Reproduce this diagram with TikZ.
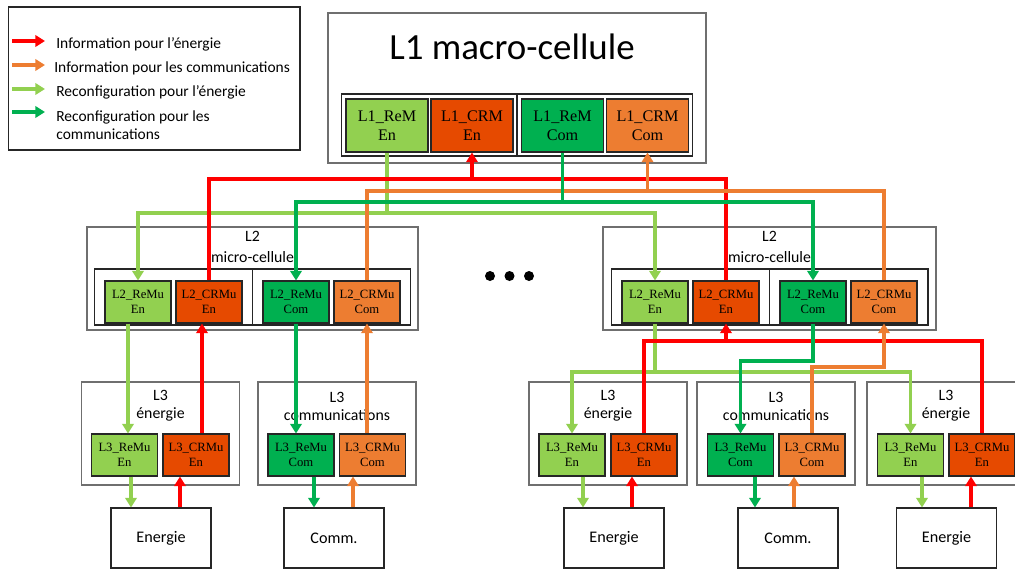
\documentclass[tikz,border=0pt]{standalone}
\usepackage{fontspec}
\setmainfont{Carlito}
\newfontfamily\tnr{Liberation Serif}
\usetikzlibrary{positioning, arrows.meta}
\definecolor{ligreen}{HTML}{92D050}
\definecolor{dkgreen}{HTML}{00B050}
\definecolor{comorange}{HTML}{ED7D31}
\definecolor{enred}{HTML}{E64A00}
\definecolor{arrred}{HTML}{FF0000}
\definecolor{framegray}{HTML}{6F6F6F}
\definecolor{darkline}{HTML}{262626}

\begin{document}
\begin{tikzpicture}[
        x=0.02cm, y=-0.02cm,
        cellbox/.style={rectangle, draw=framegray, fill=white,
          line width=0.9pt, inner sep=0pt},
        holder/.style={rectangle, draw=darkline, line width=0.6pt,
          inner sep=0pt},
        unitL1/.style={rectangle, draw=darkline, line width=0.6pt,
          minimum width=1.64cm, minimum height=1.06cm, inner sep=0pt,
          align=center, font=\tnr\fontsize{9.2}{11}\selectfont},
        unit/.style={rectangle, draw=darkline, line width=0.6pt,
          minimum width=1.32cm, minimum height=0.84cm, inner sep=0pt,
          align=center, font=\tnr\fontsize{7.2}{8.5}\selectfont},
        srcbox/.style={rectangle, draw=darkline, fill=white,
          line width=0.6pt, minimum width=2cm, minimum height=1.2cm,
          font=\fontsize{9.2}{10}\selectfont},
        lbl/.style={font=\fontsize{9}{10}\selectfont, align=center},
        keytxt/.style={font=\fontsize{8.8}{10.2}\selectfont, anchor=west,
          align=left, inner sep=0pt},
        wire/.style={line width=2pt},
        arr/.style={wire, -{Triangle[length=5.5pt, width=6.5pt]}},
      ]
        \useasboundingbox (0,0) rectangle (1015,569);
        \clip (0,0) rectangle (1015,569);

        % legend
        \node[draw=darkline, line width=0.6pt, minimum width=5.84cm,
          minimum height=2.86cm] (key) at (154,78.5) {};
        \node[keytxt] (keyA) at (56,44) {Information pour l’énergie};
        \node[keytxt] (keyB) at (54,68) {Information pour les communications};
        \node[keytxt] (keyC) at (56,92) {Reconfiguration pour l’énergie};
        \node[keytxt] (keyD) at (56,125) {Reconfiguration pour les\\communications};
        \coordinate (arrA) at (12,41);
        \coordinate (arrB) at (12,65);
        \coordinate (arrC) at (12,89);
        \coordinate (arrD) at (12,112);
        \draw[arr, arrred] (arrA) -- ++(33,0);
        \draw[arr, comorange] (arrB) -- ++(33,0);
        \draw[arr, ligreen] (arrC) -- ++(33,0);
        \draw[arr, dkgreen] (arrD) -- ++(33,0);

        % L1 macro-cellule
        \node[cellbox, minimum width=7.56cm, minimum height=3cm] (L1) at (517,88) {};
        \node[font=\fontsize{21}{24}\selectfont] (L1ttl) at (512,47) {L1 macro-cellule};
        \node[holder, minimum width=7.04cm, minimum height=1.24cm] (L1hold) at (517,125) {};
        \draw[darkline, line width=0.6pt] (L1hold.north) -- (L1hold.south);
        \node[unitL1, fill=ligreen] (L1ReEn) at (387,125.5) {L1\_ReM\\En};
        \node[unitL1, fill=enred] (L1CrEn) at (472,125.5) {L1\_CRM\\En};
        \node[unitL1, fill=dkgreen] (L1ReCo) at (562.5,125.5) {L1\_ReM\\Com};
        \node[unitL1, fill=comorange] (L1CrCo) at (647.5,125.5) {L1\_CRM\\Com};

        % L2 micro-cellules
        \node[cellbox, minimum width=6.62cm, minimum height=2.06cm] (L2a) at (252.5,278.5) {};
        \node[lbl, font=\fontsize{9}{11.8}\selectfont] (L2attl) at (252.5,247) {L2\\micro-cellule};
        \node[holder, minimum width=6.34cm, minimum height=1.12cm] (L2ahold) at (252.5,297) {};
        \draw[darkline, line width=0.6pt] (L2ahold.north) -- (L2ahold.south);
        \node[unit, fill=ligreen] (L2aReEn) at (138,302) {L2\_ReMu\\En};
        \node[unit, fill=enred] (L2aCrEn) at (209,302) {L2\_CRMu\\En};
        \node[unit, fill=dkgreen] (L2aReCo) at (296,302) {L2\_ReMu\\Com};
        \node[unit, fill=comorange] (L2aCrCo) at (367,302) {L2\_CRMu\\Com};

        \node[cellbox, minimum width=6.66cm, minimum height=2.06cm] (L2b) at (769.5,278.5) {};
        \node[lbl, font=\fontsize{9}{11.8}\selectfont] (L2bttl) at (769.5,247) {L2\\micro-cellule};
        \node[holder, minimum width=6.34cm, minimum height=1.12cm] (L2bhold) at (769.5,297) {};
        \draw[darkline, line width=0.6pt] (L2bhold.north) -- (L2bhold.south);
        \node[unit, fill=ligreen] (L2bReEn) at (655,302) {L2\_ReMu\\En};
        \node[unit, fill=enred] (L2bCrEn) at (726,302) {L2\_CRMu\\En};
        \node[unit, fill=dkgreen] (L2bReCo) at (813,302) {L2\_ReMu\\Com};
        \node[unit, fill=comorange] (L2bCrCo) at (884,302) {L2\_CRMu\\Com};

        \fill (490,276) circle (0.1cm);
        \fill (509.5,276) circle (0.1cm);
        \fill (529,276) circle (0.1cm);

        % L3 cellules
        \node[cellbox, minimum width=3.16cm, minimum height=2.06cm] (L3a) at (160.5,433.5) {};
        \node[lbl, font=\fontsize{9}{10.2}\selectfont] (L3attl) at (160.5,406) {L3\\énergie};
        \node[unit, fill=ligreen] (L3aReEn) at (124.5,455) {L3\_ReMu\\En};
        \node[unit, fill=enred] (L3aCrEn) at (196,455) {L3\_CRMu\\En};

        \node[cellbox, minimum width=3.16cm, minimum height=2.06cm] (L3b) at (337,433.5) {};
        \node[lbl, font=\fontsize{9}{10.2}\selectfont] (L3bttl) at (337,406) {L3\\communications};
        \node[unit, fill=dkgreen] (L3bReCo) at (301,455) {L3\_ReMu\\Com};
        \node[unit, fill=comorange] (L3bCrCo) at (372.5,455) {L3\_CRMu\\Com};

        \node[cellbox, minimum width=3.16cm, minimum height=2.06cm] (L3c) at (608,433.5) {};
        \node[lbl, font=\fontsize{9}{10.2}\selectfont] (L3cttl) at (608,406) {L3\\énergie};
        \node[unit, fill=ligreen] (L3cReEn) at (572,455) {L3\_ReMu\\En};
        \node[unit, fill=enred] (L3cCrEn) at (644,455) {L3\_CRMu\\En};

        \node[cellbox, minimum width=3.16cm, minimum height=2.06cm] (L3d) at (776,433.5) {};
        \node[lbl, font=\fontsize{9}{10.2}\selectfont] (L3dttl) at (776,406) {L3\\communications};
        \node[unit, fill=dkgreen] (L3dReCo) at (740.5,455) {L3\_ReMu\\Com};
        \node[unit, fill=comorange] (L3dCrCo) at (812,455) {L3\_CRMu\\Com};

        \node[cellbox, minimum width=3.16cm, minimum height=2.06cm] (L3e) at (946,433.5) {};
        \node[lbl, font=\fontsize{9}{10.2}\selectfont] (L3ettl) at (946,406) {L3\\énergie};
        \node[unit, fill=ligreen] (L3eReEn) at (910.5,455) {L3\_ReMu\\En};
        \node[unit, fill=enred] (L3eCrEn) at (982,455) {L3\_CRMu\\En};

        % sources
        \node[srcbox] (srcA) at (161,538) {Energie};
        \node[srcbox] (srcB) at (334,538) {Comm.};
        \node[srcbox] (srcC) at (614,538) {Energie};
        \node[srcbox] (srcD) at (788,538) {Comm.};
        \node[srcbox] (srcE) at (946.5,538) {Energie};

        % L1 <-> L2
        \draw[arr, ligreen] (L1ReEn.south) |- (L2aReEn.north |- 0,213) -- (L2aReEn.north);
        \draw[arr, ligreen] (L1ReEn.south |- 0,213) -| (L2bReEn.north);
        \draw[wire, arrred] (L2aCrEn.north) |- (L2bCrEn.north |- 0,179) -- (L2bCrEn.north);
        \draw[arr, arrred] (L1CrEn.south |- 0,179) -- (L1CrEn.south);
        \draw[wire, comorange] (L2aCrCo.north) |- (L2bCrCo.north |- 0,191) -- (L2bCrCo.north);
        \draw[arr, comorange] (L1CrCo.south |- 0,191) -- (L1CrCo.south);
        \draw[arr, dkgreen] (L1ReCo.south) |- (L2aReCo.north |- 0,202) -- (L2aReCo.north);
        \draw[arr, dkgreen] (L1ReCo.south |- 0,202) -| (L2bReCo.north);

        % L2 <-> L3, left
        \draw[arr, ligreen] (L2aReEn.south -| 128,0) -- (L3aReEn.north -| 128,0);
        \draw[arr, arrred] (L3aCrEn.north -| 202,0) -- (L2aCrEn.south -| 202,0);
        \draw[arr, dkgreen] (L2aReCo.south) -- (L3bReCo.north -| L2aReCo.south);
        \draw[arr, comorange] (L3bCrCo.north -| L2aCrCo.south) -- (L2aCrCo.south);

        % L2 <-> L3, right
        \draw[arr, ligreen] (L2bReEn.south) |- (L3cReEn.north |- 0,372) -- (L3cReEn.north);
        \draw[arr, ligreen] (L2bReEn.south |- 0,372) -| (L3eReEn.north);
        \draw[wire, arrred] (L3cCrEn.north) |- (L3eCrEn.north |- 0,341) -- (L3eCrEn.north);
        \draw[arr, arrred] (L2bCrEn.south |- 0,341) -- (L2bCrEn.south);
        \draw[arr, dkgreen] (L2bReCo.south) |- (L3dReCo.north |- 0,361) -- (L3dReCo.north);
        \draw[arr, comorange] (L3dCrCo.north) |- (L2bCrCo.south |- 0,367) -- (L2bCrCo.south);

        % L3 <-> sources
        \draw[arr, ligreen] (L3aReEn.south -| 131,0) -- (srcA.north -| 131,0);
        \draw[arr, arrred] (srcA.north -| 180,0) -- (L3aCrEn.south -| 180,0);
        \draw[arr, dkgreen] (L3bReCo.south -| 314,0) -- (srcB.north -| 314,0);
        \draw[arr, comorange] (srcB.north -| 353,0) -- (L3bCrCo.south -| 353,0);
        \draw[arr, ligreen] (L3cReEn.south -| 583,0) -- (srcC.north -| 583,0);
        \draw[arr, arrred] (srcC.north -| 632,0) -- (L3cCrEn.south -| 632,0);
        \draw[arr, dkgreen] (L3dReCo.south -| 755,0) -- (srcD.north -| 755,0);
        \draw[arr, comorange] (srcD.north -| 794,0) -- (L3dCrCo.south -| 794,0);
        \draw[arr, ligreen] (L3eReEn.south -| 922,0) -- (srcE.north -| 922,0);
        \draw[arr, arrred] (srcE.north -| 971,0) -- (L3eCrEn.south -| 971,0);
      \end{tikzpicture}
\end{document}
